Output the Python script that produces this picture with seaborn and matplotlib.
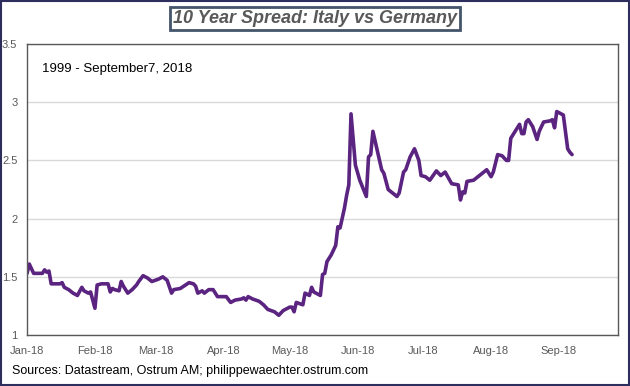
import pandas as pd
import matplotlib.pyplot as plt
import matplotlib.dates as mdates
import seaborn as sns
from matplotlib.patches import Rectangle

# Datos (spread Italia - Alemania a 10 anos, 2018)
dates = [
    "2018-01-01", "2018-01-02", "2018-01-04", "2018-01-08", "2018-01-09", "2018-01-10",
    "2018-01-11", "2018-01-12", "2018-01-15", "2018-01-16", "2018-01-17", "2018-01-18",
    "2018-01-20", "2018-01-22", "2018-01-24", "2018-01-26", "2018-01-27", "2018-01-29",
    "2018-01-30", "2018-02-01", "2018-02-02", "2018-02-04", "2018-02-06", "2018-02-07",
    "2018-02-08", "2018-02-09", "2018-02-10", "2018-02-12", "2018-02-13", "2018-02-14",
    "2018-02-16", "2018-02-18", "2018-02-20", "2018-02-21", "2018-02-23", "2018-02-25",
    "2018-02-27", "2018-03-02", "2018-03-04", "2018-03-06", "2018-03-08", "2018-03-09",
    "2018-03-12", "2018-03-16", "2018-03-18", "2018-03-19", "2018-03-20", "2018-03-22",
    "2018-03-23", "2018-03-25", "2018-03-27", "2018-03-29", "2018-04-02", "2018-04-04",
    "2018-04-06", "2018-04-09", "2018-04-10", "2018-04-11", "2018-04-12", "2018-04-14",
    "2018-04-17", "2018-04-19", "2018-04-21", "2018-04-24", "2018-04-26", "2018-04-28",
    "2018-05-01", "2018-05-02", "2018-05-03", "2018-05-04", "2018-05-07", "2018-05-08",
    "2018-05-10", "2018-05-11", "2018-05-12", "2018-05-15", "2018-05-16", "2018-05-17",
    "2018-05-18", "2018-05-20", "2018-05-22", "2018-05-23", "2018-05-24", "2018-05-26",
    "2018-05-27", "2018-05-28", "2018-05-29", "2018-05-31", "2018-06-02", "2018-06-05",
    "2018-06-06", "2018-06-07", "2018-06-08", "2018-06-12", "2018-06-13", "2018-06-15",
    "2018-06-17", "2018-06-19", "2018-06-20", "2018-06-22", "2018-06-23", "2018-06-25",
    "2018-06-27", "2018-06-29", "2018-06-30", "2018-07-02", "2018-07-04", "2018-07-07",
    "2018-07-09", "2018-07-11", "2018-07-14", "2018-07-17", "2018-07-18", "2018-07-19",
    "2018-07-20", "2018-07-21", "2018-07-24", "2018-07-26", "2018-07-28", "2018-07-30",
    "2018-08-01", "2018-08-02", "2018-08-04", "2018-08-06", "2018-08-08", "2018-08-09",
    "2018-08-10", "2018-08-12", "2018-08-14", "2018-08-15", "2018-08-16", "2018-08-17",
    "2018-08-18", "2018-08-20", "2018-08-22", "2018-08-23", "2018-08-25", "2018-08-28",
    "2018-08-29", "2018-08-30", "2018-08-31", "2018-09-03", "2018-09-05", "2018-09-06",
    "2018-09-07",
]
spread = [
    1.53, 1.61, 1.53, 1.53, 1.56, 1.54,
    1.55, 1.44, 1.44, 1.44, 1.45, 1.41,
    1.39, 1.36, 1.34, 1.41, 1.38, 1.36,
    1.37, 1.23, 1.43, 1.44, 1.44, 1.44,
    1.37, 1.40, 1.39, 1.38, 1.46, 1.42,
    1.36, 1.39, 1.43, 1.46, 1.51, 1.49,
    1.46, 1.48, 1.50, 1.47, 1.36, 1.39,
    1.40, 1.45, 1.44, 1.42, 1.36, 1.38,
    1.36, 1.39, 1.39, 1.33, 1.33, 1.28,
    1.30, 1.31, 1.32, 1.30, 1.33, 1.31,
    1.29, 1.26, 1.22, 1.20, 1.17, 1.21,
    1.24, 1.24, 1.20, 1.28, 1.26, 1.36,
    1.34, 1.41, 1.37, 1.34, 1.52, 1.53,
    1.63, 1.69, 1.77, 1.93, 1.92, 2.09,
    2.20, 2.29, 2.90, 2.46, 2.33, 2.19,
    2.53, 2.55, 2.75, 2.42, 2.39, 2.25,
    2.22, 2.19, 2.22, 2.40, 2.42, 2.53,
    2.60, 2.50, 2.37, 2.36, 2.33, 2.41,
    2.37, 2.40, 2.30, 2.29, 2.16, 2.23,
    2.22, 2.32, 2.33, 2.36, 2.39, 2.42,
    2.36, 2.40, 2.55, 2.54, 2.50, 2.50,
    2.69, 2.75, 2.81, 2.73, 2.73, 2.83,
    2.85, 2.79, 2.68, 2.75, 2.83, 2.84,
    2.85, 2.78, 2.92, 2.89, 2.60, 2.57,
    2.55,
]
y_ticks = [1, 1.5, 2, 2.5, 3, 3.5]
y_labels = ["1", "1.5", "2", "2.5", "3", "3.5"]

df = pd.DataFrame({"date": pd.to_datetime(dates), "spread": spread})

sns.set_style("white")
plt.rcParams["font.family"] = ["Liberation Sans", "DejaVu Sans"]

fig = plt.figure(figsize=(6.3, 3.86), dpi=100)
ax = fig.add_axes([0.043, 0.132, 0.938, 0.754])

sns.lineplot(data=df, x="date", y="spread", ax=ax, color="#5B2480", linewidth=2.6)

ax.set_xlim(pd.Timestamp("2018-01-01"), pd.Timestamp("2018-09-28"))
ax.set_ylim(1, 3.5)
ax.set_yticks(y_ticks)
ax.set_yticklabels(y_labels)
ax.xaxis.set_major_locator(mdates.MonthLocator())
ax.xaxis.set_major_formatter(mdates.DateFormatter("%b-%y"))
ax.tick_params(axis="both", length=0, labelsize=8, colors="#595959")
ax.tick_params(axis="y", pad=7)
ax.tick_params(axis="x", pad=8)
ax.set_xlabel("")
ax.set_ylabel("")
ax.grid(axis="y", color="#D9D9D9", linewidth=1)
ax.set_axisbelow(True)
for s in ax.spines.values():
    s.set_color("#595959")
    s.set_linewidth(1)

ax.text(0.025, 0.935, "1999 - September7, 2018", transform=ax.transAxes,
        fontsize=9.5, color="black", va="top")

# Titulo en recuadro
fig.text(0.5, 0.952, "10 Year Spread: Italy vs Germany", ha="center", va="center",
         fontsize=13, fontstyle="italic", fontweight="bold", color="#595959",
         bbox=dict(boxstyle="square,pad=0.15", facecolor="white",
                   edgecolor="#44546A", linewidth=2))

fig.text(0.019, 0.038, "Sources: Datastream, Ostrum AM; philippewaechter.ostrum.com",
         fontsize=9, color="black", va="center")

# Borde exterior
fig.patches.append(Rectangle((0.001, 0.002), 0.997, 0.995, transform=fig.transFigure,
                             fill=False, edgecolor="#2E2E5E", linewidth=1.5))

fig.savefig("out.png", dpi=100)
